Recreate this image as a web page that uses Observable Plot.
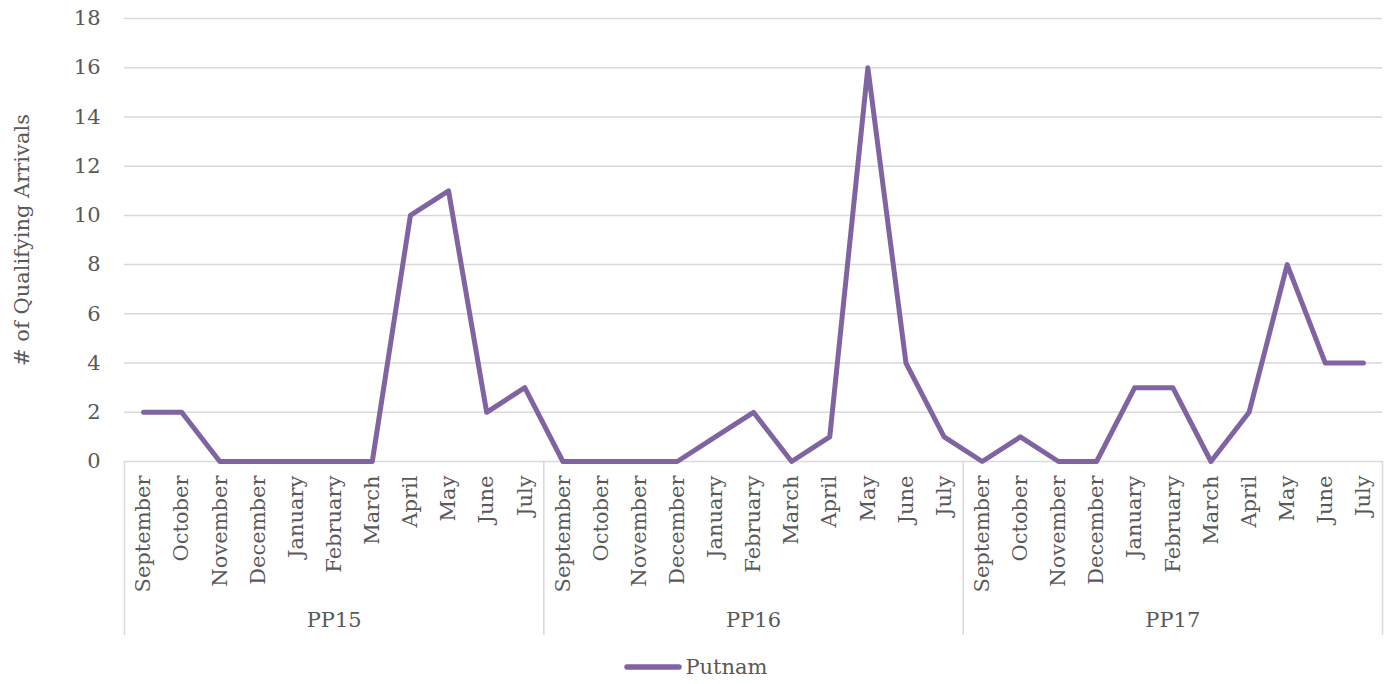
<!DOCTYPE html>
<html>
<head>
<meta charset="utf-8">
<script src="https://cdn.jsdelivr.net/npm/d3@7"></script>
<script src="https://cdn.jsdelivr.net/npm/@observablehq/plot@0.6"></script>
<style>
  html, body { margin: 0; padding: 0; background: #fff; }
  #legend { display: flex; justify-content: center; align-items: center; height: 39px; padding-top: 4px; box-sizing: border-box;
            font-family: "DejaVu Serif", serif; font-size: 21px; color: #595959; }
  #legend svg { margin-right: 2px; }
</style>
</head>
<body>
<div id="chart"></div>
<div id="legend"></div>
<script>
const groups = ["PP15", "PP16", "PP17"];
const months = ["September", "October", "November", "December", "January", "February", "March", "April", "May", "June", "July"];
const pp15 = [2, 2, 0, 0, 0, 0, 0, 10, 11, 2, 3];
const pp16 = [0, 0, 0, 0, 1, 2, 0, 1, 16, 4, 1];
const pp17 = [0, 1, 0, 0, 3, 3, 0, 2, 8, 4, 4];
const yTicks = [0, 2, 4, 6, 8, 10, 12, 14, 16, 18];
const seriesName = "Putnam";
const yTitle = "# of Qualifying Arrivals";

const groupValues = [pp15, pp16, pp17];
const n = months.length;
const data = groups.flatMap((g, gi) => months.map((m, mi) => ({i: gi * n + mi, group: g, month: m, value: groupValues[gi][mi]})));
const boundaries = d3.range(groups.length + 1).map(k => k * n - 0.5);
const groupCenters = groups.map((g, gi) => ({g, c: gi * n + (n - 1) / 2}));

const color = "#8064A2";
const textColor = "#595959";
const fs = 21;

const chart = Plot.plot({
  width: 1391,
  height: 645,
  marginLeft: 124,
  marginRight: 9,
  marginTop: 18,
  marginBottom: 184,
  x: {type: "linear", domain: [-0.5, groups.length * n - 0.5], axis: null},
  y: {domain: [0, 18], axis: null},
  style: {fontFamily: "DejaVu Serif, serif", fontSize: fs + "px", color: textColor, background: "#fff"},
  marks: [
    Plot.ruleY(yTicks, {stroke: "#d9d9d9", strokeWidth: 1.5}),
    Plot.text(yTicks, {x: -0.5, y: d => d, text: d => String(d), textAnchor: "end", dx: -24, fill: textColor, fontSize: fs}),
    Plot.ruleX(boundaries, {y1: 0, y2: 0, insetTop: 174, stroke: "#d9d9d9", strokeWidth: 1.5}),
    Plot.text(data, {x: "i", y: 0, text: "month", rotate: -90, textAnchor: "end", dy: 14, fill: textColor, fontSize: fs}),
    Plot.text(groupCenters, {x: "c", y: 0, text: "g", dy: 159, fill: textColor, fontSize: fs}),
    Plot.text([yTitle], {frameAnchor: "left", y: 9, rotate: -90, textAnchor: "middle", dx: -102, fill: textColor, fontSize: fs}),
    Plot.line(data, {x: "i", y: "value", stroke: color, strokeWidth: 5, strokeLinejoin: "round", strokeLinecap: "round"})
  ]
});
document.getElementById("chart").appendChild(chart);

const legend = document.getElementById("legend");
legend.innerHTML = `<svg width="60" height="12"><line x1="4" y1="6" x2="56" y2="6" stroke="${color}" stroke-width="5.5" stroke-linecap="round"/></svg><span>${seriesName}</span>`;
</script>
</body>
</html>
